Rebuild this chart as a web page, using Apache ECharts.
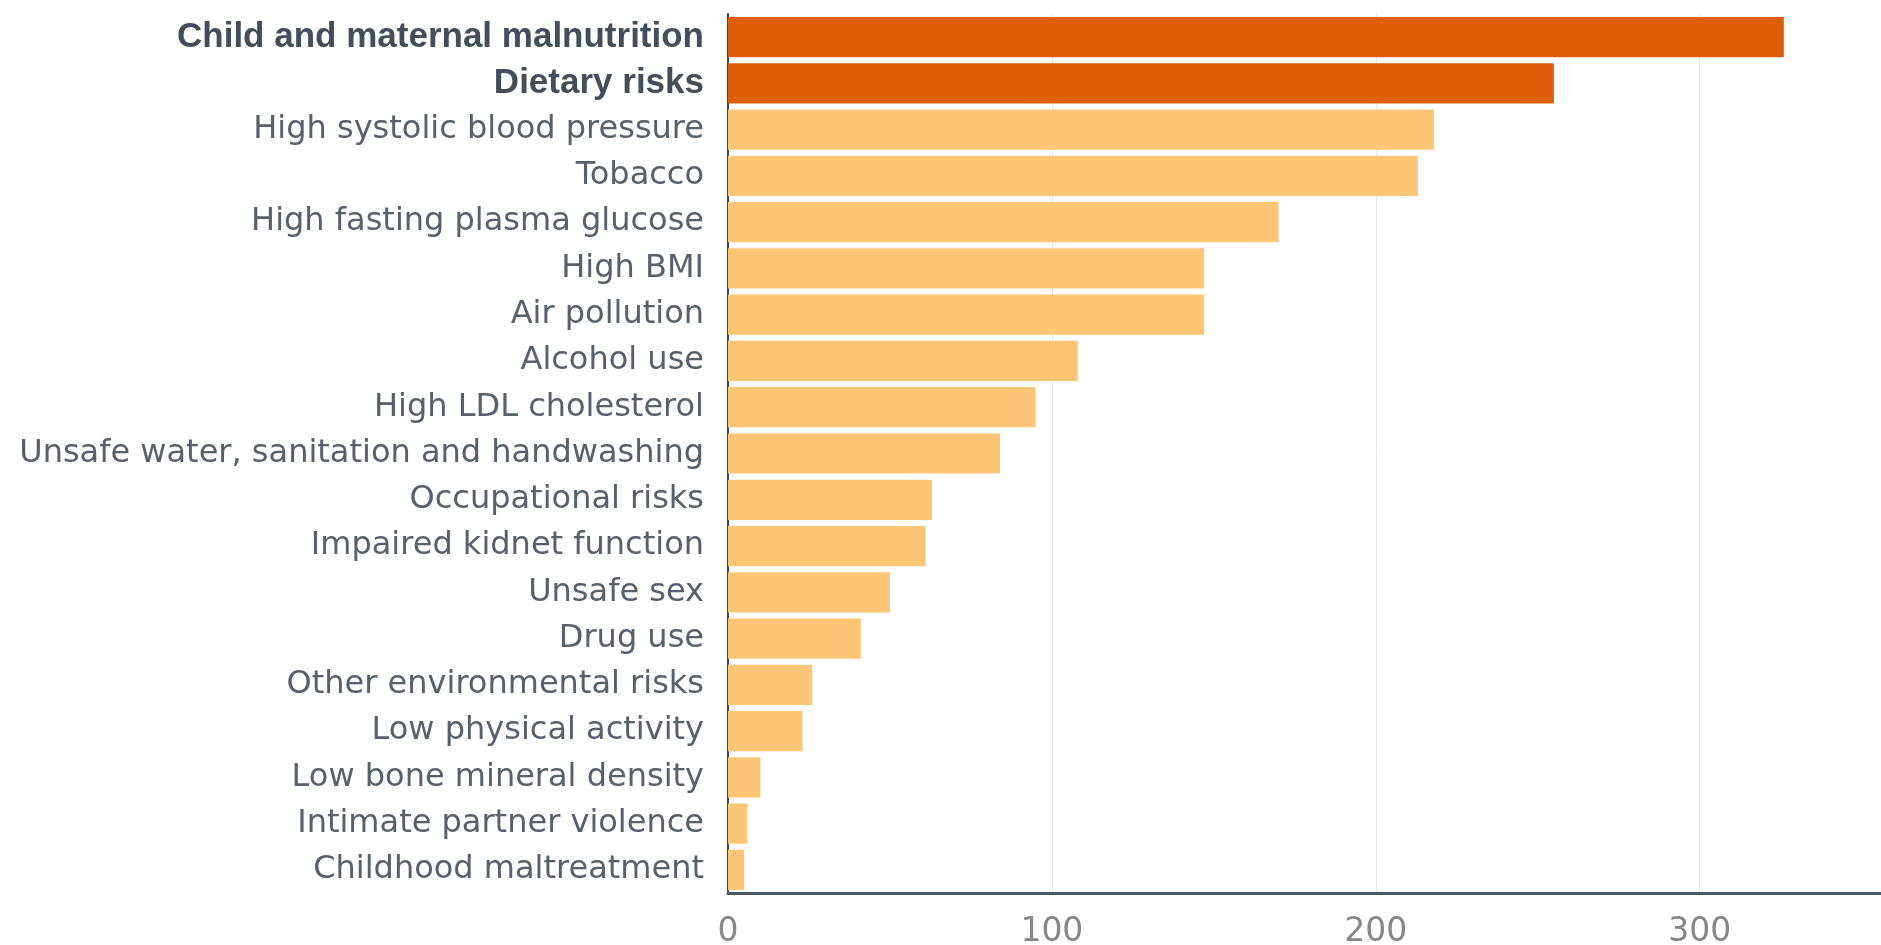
<!DOCTYPE html>
<html>
<head>
<meta charset="utf-8">
<script src="https://cdn.jsdelivr.net/npm/echarts@6/dist/echarts.min.js"></script>
<style>
  html, body { margin: 0; padding: 0; background: #fff; }
  #box { width: 1881px; height: 945px; }
</style>
</head>
<body>
<div id="box"></div>
<script>
const categories = [
  'Child and maternal malnutrition', 'Dietary risks', 'High systolic blood pressure', 'Tobacco',
  'High fasting plasma glucose', 'High BMI', 'Air pollution', 'Alcohol use', 'High LDL cholesterol',
  'Unsafe water, sanitation and handwashing', 'Occupational risks', 'Impaired kidnet function',
  'Unsafe sex', 'Drug use', 'Other environmental risks', 'Low physical activity',
  'Low bone mineral density', 'Intimate partner violence', 'Childhood maltreatment'
];
const values = [326, 255, 218, 213, 170, 147, 147, 108, 95, 84, 63, 61, 50, 41, 26, 23, 10, 6, 5];
const highlighted = ['Child and maternal malnutrition', 'Dietary risks'];
const xTicks = [0, 100, 200, 300];

const graph = echarts.init(document.getElementById('box'));
graph.setOption({
  backgroundColor: '#fff',
  animation: false,
  grid: { left: 728, right: 0, top: 14, bottom: 52, containLabel: false, outerBoundsMode: 'none' },
  xAxis: {
    type: 'value',
    min: 0,
    max: 356,
    interval: 100,
    axisLine: { show: true, lineStyle: { color: '#4b5866', width: 3 } },
    axisTick: { show: false },
    splitLine: { show: true, lineStyle: { color: '#e4e6e8', width: 1 } },
    axisLabel: {
      margin: 23,
      fontFamily: 'DejaVu Sans',
      fontSize: 33,
      color: '#85878a',
      showMaxLabel: false,
      formatter: function (v) { return xTicks.indexOf(v) >= 0 ? String(v) : ''; }
    }
  },
  yAxis: {
    type: 'category',
    inverse: true,
    data: categories,
    axisLine: { show: true, lineStyle: { color: '#3e4852', width: 2 } },
    axisTick: { show: false },
    axisLabel: {
      margin: 24,
      fontFamily: 'DejaVu Sans',
      fontSize: 32,
      color: '#58616b',
      formatter: function (v) {
        return highlighted.indexOf(v) >= 0 ? '{b|' + v + '}' : v;
      },
      rich: {
        b: {
          fontFamily: 'Liberation Sans',
          fontWeight: 'bold',
          fontSize: 35,
          color: '#444e59'
        }
      }
    }
  },
  series: [{
    type: 'bar',
    data: values,
    barCategoryGap: '13%',
    itemStyle: {
      color: function (p) {
        return highlighted.indexOf(categories[p.dataIndex]) >= 0 ? '#df5e0b' : '#fdc675';
      }
    }
  }]
});
</script>
</body>
</html>
